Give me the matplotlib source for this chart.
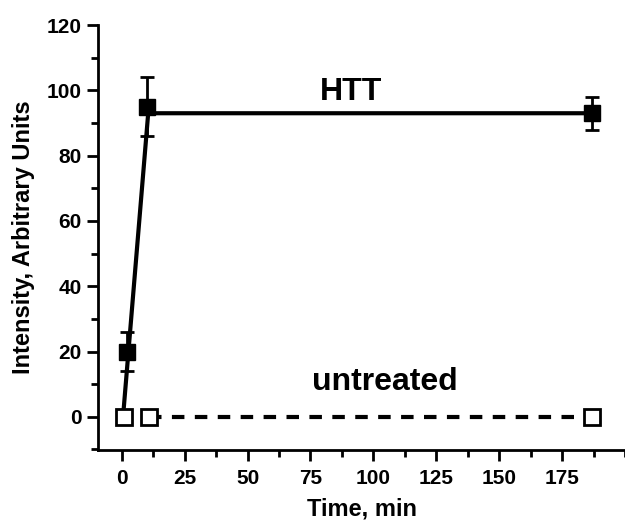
import matplotlib
matplotlib.use("Agg")
import matplotlib.pyplot as plt
from matplotlib.ticker import MultipleLocator

# Data
htt_time = [2, 10, 187]
htt_val = [20, 95, 93]
htt_err_up = [6, 9, 5]
htt_err_dn = [6, 9, 5]

fit_time = [0.5, 10.5, 187]
fit_val = [0, 93, 93]

untreated_time = [1, 11, 187]
untreated_val = [0, 0, 0]

xticks = [0, 25, 50, 75, 100, 125, 150, 175]
yticks = [0, 20, 40, 60, 80, 100, 120]

plt.rcParams['font.family'] = ['Liberation Sans', 'DejaVu Sans']
plt.rcParams['font.weight'] = 'bold'

fig = plt.figure(figsize=(6.25, 5.23), dpi=100)
ax = fig.add_axes([0.157, 0.14, 0.843, 0.812])

# fitted lines
ax.plot(fit_time, fit_val, color='black', lw=3, zorder=2)
ax.plot(untreated_time[1:], untreated_val[1:], color='black', lw=3,
        ls=(0, (3, 2.5)), zorder=2)

ax.errorbar(htt_time, htt_val, yerr=[htt_err_dn, htt_err_up], fmt='s',
            color='black', ms=12, capsize=5, elinewidth=2, capthick=2, zorder=3)
ax.plot(untreated_time, untreated_val, 's', ms=12, mfc='white', mec='black',
        mew=2, zorder=4)

ax.text(91, 99.6, 'HTT', fontsize=23, fontweight='bold', ha='center', va='center')
ax.text(104.5, 10.7, 'untreated', fontsize=23, fontweight='bold', ha='center', va='center')

ax.set_xlim(-9.4, 200)
ax.set_ylim(-10.1, 120)
ax.set_xticks(xticks)
ax.set_yticks(yticks)
ax.xaxis.set_minor_locator(MultipleLocator(12.5))
ax.yaxis.set_minor_locator(MultipleLocator(10))

for s in ['top', 'right']:
    ax.spines[s].set_visible(False)
for s in ['left', 'bottom']:
    ax.spines[s].set_linewidth(2)

ax.tick_params(which='major', direction='out', length=8, width=2, labelsize=15)
ax.tick_params(axis='x', which='major', pad=6)
ax.tick_params(axis='y', which='major', pad=4)
ax.tick_params(which='minor', direction='out', length=5, width=2)
for lab in ax.get_xticklabels() + ax.get_yticklabels():
    lab.set_fontweight('bold')

ax.set_xlabel('Time, min', fontsize=17, fontweight='bold', labelpad=7)
ax.set_ylabel('Intensity, Arbitrary Units', fontsize=17, fontweight='bold', labelpad=8)

fig.savefig('out.png', dpi=100)
